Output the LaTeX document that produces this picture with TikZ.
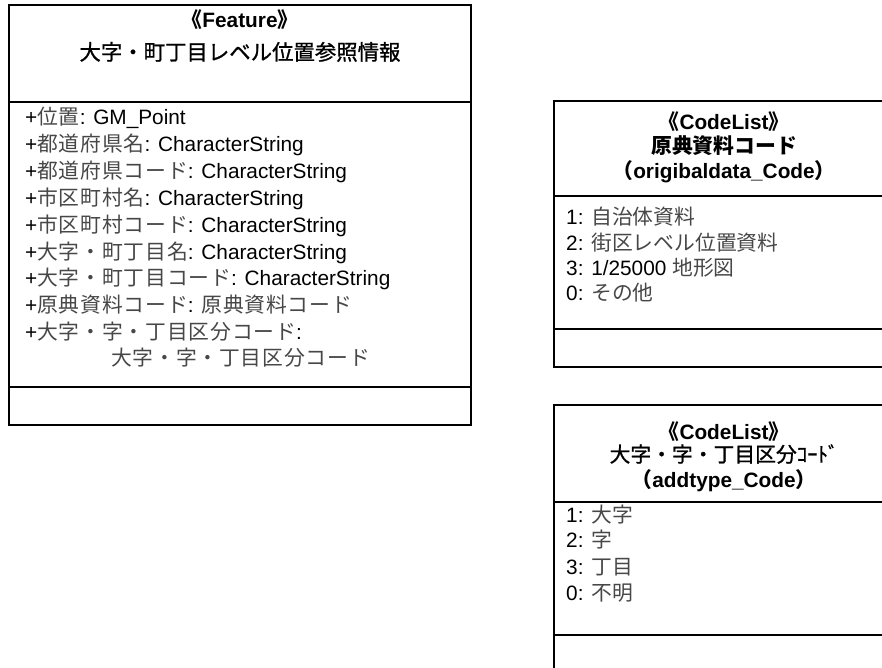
\documentclass[tikz,border=0pt]{standalone}
\usepackage{fontspec}
\setmainfont{Liberation Sans}
\newfontfamily\jp{Noto Sans CJK JP}
\newfontfamily\jpmid[FakeBold=1]{Noto Sans CJK JP}
\newfontfamily\jpwide[LetterSpace=4]{Noto Sans CJK JP}
\usetikzlibrary{positioning}

\newcommand{\ja}[1]{{\jp #1}}
\newcommand{\jr}[1]{{\jpmid\mdseries #1}}
\newcommand{\jl}[1]{{\jp\color{black!72}#1}}
\newcommand{\jw}[1]{{\jpwide\color{black!72}#1}}

\tikzset{
  umlbox/.style={line width=1.5pt},
  hdline/.style={font=\bfseries\fontsize{20.8}{24}\selectfont, anchor=base, inner sep=0pt},
  attrline/.style={font=\fontsize{20.8}{24}\selectfont, anchor=base west, inner sep=0pt},
}

\begin{document}
\begin{tikzpicture}[x=1pt,y=-1pt]
	\useasboundingbox (0,0) rectangle (882,668);
	\clip (0,0) rectangle (882,668);
	% Feature class
	\draw[umlbox] (9,5) rectangle (471,425);
	\draw[umlbox] (9,102) -- (471,102);
	\draw[umlbox] (9,387) -- (471,387);
	\node[hdline] (featStereo) at (240,28) {\ja{《}Feature\ja{》}};
	\node[hdline, font=\fontsize{21.4}{24}\selectfont] (featName) at (240,60) {\jr{大字・町丁目レベル位置参照情報}};
	\node[attrline] (aIchi) at (25,125) {+\jw{位置}: GM\_Point};
	\node[attrline] (aPrefName) at (25,152) {+\jw{都道府県名}: CharacterString};
	\node[attrline] (aPrefCode) at (25,179) {+\jw{都道府県コード}: CharacterString};
	\node[attrline] (aCityName) at (25,205) {+\jw{市区町村名}: CharacterString};
	\node[attrline] (aCityCode) at (25,232) {+\jw{市区町村コード}: CharacterString};
	\node[attrline] (aAzaName) at (25,259) {+\jw{大字・町丁目名}: CharacterString};
	\node[attrline] (aAzaCode) at (25,285) {+\jw{大字・町丁目コード}: CharacterString};
	\node[attrline] (aSrcCode) at (25,312) {+\jw{原典資料コード}: \jw{原典資料コード}};
	\node[attrline] (aTypeCode) at (25,339) {+\jw{大字・字・丁目区分コード}:};
	\node[attrline] (aTypeCodeT) at (111,365) {\jw{大字・字・丁目区分コード}};

	% CodeList: origibaldata_Code
	\draw[umlbox] (554,101) rectangle (894,367);
	\draw[umlbox] (554,196) -- (894,196);
	\draw[umlbox] (554,329) -- (894,329);
	\node[hdline] (srcStereo) at (724,130) {\ja{《}CodeList\ja{》}};
	\node[hdline] (srcName) at (724,154) {\ja{原典資料コード}};
	\node[hdline] (srcEng) at (724,179) {\ja{（}origibaldata\_Code\ja{）}};
	\node[attrline] (src1) at (566,224) {1: \jl{自治体資料}};
	\node[attrline] (src2) at (566,250) {2: \jl{街区レベル位置資料}};
	\node[attrline] (src3) at (566,275) {3: 1/25000 \jl{地形図}};
	\node[attrline] (src0) at (566,300) {0: \jl{その他}};

	% CodeList: addtype_Code
	\draw[umlbox] (554,405) rectangle (894,690);
	\draw[umlbox] (554,502) -- (894,502);
	\draw[umlbox] (554,635) -- (894,635);
	\node[hdline] (typeStereo) at (724,439) {\ja{《}CodeList\ja{》}};
	\node[hdline] (typeName) at (724,462) {\jr{大字・字・丁目区分ｺｰﾄﾞ}};
	\node[hdline] (typeEng) at (724,487) {\ja{（}addtype\_Code\ja{）}};
	\node[attrline] (type1) at (566,522) {1: \jl{大字}};
	\node[attrline] (type2) at (566,547) {2: \jl{字}};
	\node[attrline] (type3) at (566,574) {3: \jl{丁目}};
	\node[attrline] (type0) at (566,600) {0: \jl{不明}};
\end{tikzpicture}
\end{document}
